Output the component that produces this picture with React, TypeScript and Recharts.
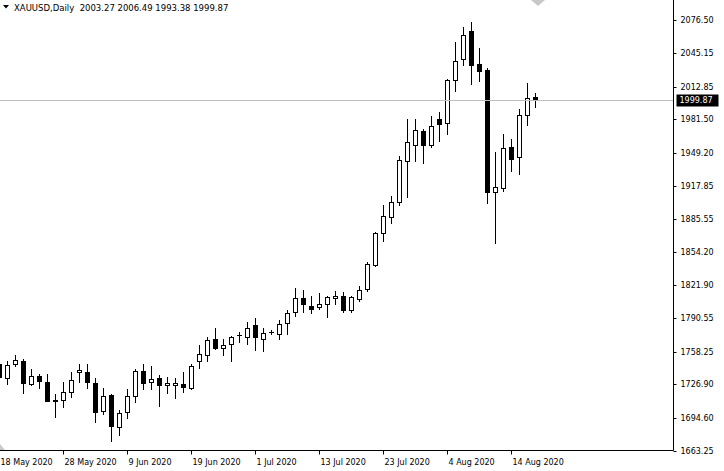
import { ComposedChart, Bar, XAxis, YAxis, ReferenceLine } from 'recharts';

// XAUUSD daily candles, 18 May 2020 .. 19 Aug 2020 (one entry per trading day)
const opens = [
  1746.7, 1733.0, 1746.5, 1748.9, 1727.3, 1735.2, 1729.5, 1711.9, 1711.9, 1719.6,
  1738.4, 1739.1, 1728.5, 1701.4, 1717.0, 1685.6, 1700.2, 1715.4, 1740.0, 1729.2,
  1733.1, 1726.1, 1726.1, 1727.3, 1723.7, 1749.3, 1755.1, 1770.5, 1761.8, 1765.3,
  1773.9, 1772.0, 1783.9, 1770.1, 1777.0, 1775.2, 1785.8, 1796.0, 1809.8, 1802.4,
  1801.1, 1804.0, 1809.8, 1811.7, 1797.9, 1808.8, 1818.0, 1841.4, 1872.7, 1887.5,
  1901.9, 1941.2, 1956.6, 1970.0, 1956.6, 1981.5, 1977.7, 2019.0, 2039.1, 2066.3,
  2034.6, 2028.8, 1911.5, 1915.9, 1954.7, 1945.6, 1985.4, 2003.27,
];
const highs = [
  1749.6, 1749.6, 1755.4, 1750.9, 1741.9, 1736.9, 1737.1, 1718.0, 1729.2, 1738.8,
  1746.7, 1746.7, 1733.3, 1723.7, 1717.7, 1702.6, 1722.8, 1741.9, 1746.7, 1744.8,
  1736.0, 1734.3, 1733.3, 1739.1, 1746.7, 1765.0, 1772.4, 1781.0, 1770.4, 1773.6,
  1777.4, 1787.0, 1790.6, 1781.0, 1779.4, 1789.0, 1797.9, 1819.7, 1817.7, 1812.0,
  1814.6, 1812.0, 1816.5, 1815.2, 1812.0, 1821.6, 1844.6, 1873.0, 1899.3, 1907.9,
  1946.3, 1981.8, 1981.8, 1972.2, 1984.7, 1988.5, 2020.2, 2055.7, 2069.8, 2074.9,
  2049.9, 2030.5, 1950.4, 1967.4, 1962.6, 1991.4, 2016.4, 2006.49,
];
const lows = [
  1731.4, 1726.9, 1744.2, 1718.2, 1725.9, 1723.4, 1710.6, 1695.2, 1704.8, 1714.8,
  1728.8, 1723.4, 1690.4, 1698.1, 1672.2, 1678.6, 1694.0, 1709.6, 1722.8, 1722.8,
  1705.8, 1718.2, 1714.1, 1719.2, 1722.8, 1742.2, 1748.9, 1760.5, 1754.7, 1749.3,
  1767.2, 1765.6, 1760.2, 1758.5, 1775.2, 1770.7, 1775.2, 1792.1, 1796.0, 1795.0,
  1798.8, 1791.5, 1804.0, 1796.0, 1796.6, 1806.5, 1816.8, 1841.0, 1864.1, 1882.3,
  1899.6, 1907.3, 1941.5, 1939.9, 1955.2, 1961.0, 1967.1, 2009.0, 2033.9, 2015.7,
  2018.6, 1901.5, 1863.1, 1912.7, 1932.2, 1929.3, 1976.4, 1993.38,
];
const closes = [
  1733.6, 1745.8, 1749.9, 1727.8, 1735.2, 1730.1, 1711.2, 1710.6, 1719.6, 1731.1,
  1741.0, 1728.8, 1700.0, 1715.7, 1686.6, 1699.4, 1716.0, 1740.0, 1728.0, 1732.1,
  1725.9, 1728.5, 1728.5, 1724.0, 1744.5, 1756.0, 1769.5, 1761.3, 1764.7, 1772.6,
  1774.3, 1781.0, 1772.0, 1776.5, 1777.3, 1785.1, 1795.4, 1809.8, 1803.6, 1798.8,
  1804.3, 1810.7, 1811.7, 1797.9, 1810.7, 1817.5, 1842.7, 1872.1, 1888.5, 1901.9,
  1942.2, 1959.5, 1971.0, 1956.6, 1974.8, 1976.7, 2019.0, 2037.2, 2062.1, 2033.9,
  2027.6, 1912.1, 1916.9, 1953.7, 1943.7, 1985.7, 2001.7, 1999.87,
];

const dateTicks = [0, 8, 16, 24, 32, 40, 48, 56, 64];
const dateLabels = [
  '18 May 2020', '28 May 2020', '9 Jun 2020', '19 Jun 2020', '1 Jul 2020',
  '13 Jul 2020', '23 Jul 2020', '4 Aug 2020', '14 Aug 2020',
];
const priceTicks = [
  2076.5, 2045.15, 2012.85, 1981.5, 1949.2, 1917.85, 1885.55,
  1854.2, 1821.9, 1790.55, 1758.25, 1726.9, 1694.6, 1663.25,
];
const lastPrice = 1999.87;
const title = 'XAUUSD,Daily  2003.27 2006.49 1993.38 1999.87';

const FONT = '"DejaVu Sans", Tahoma, sans-serif';

const data = opens.map((open, i) => ({
  i,
  open,
  high: highs[i],
  low: lows[i],
  close: closes[i],
  range: [lows[i], highs[i]],
}));

function Candle(props: any) {
  const { x, y, width, height, payload } = props;
  if (!payload || height == null) return null;
  const { open, close, high, low } = payload;
  const cx = Math.floor(x + width / 2) + 0.5;
  const k = height / (high - low);
  const py = (v: number) => Math.round(y + (high - v) * k);
  const hy = py(high);
  const ly = py(low);
  const top = py(Math.max(open, close));
  const bot = py(Math.min(open, close));
  let body;
  if (bot - top < 1) {
    body = <line x1={cx - 2.5} x2={cx + 2.5} y1={top + 0.5} y2={top + 0.5} stroke="#000" />;
  } else if (close >= open) {
    body = <rect x={cx - 2} y={top + 0.5} width={4} height={bot - top} fill="#fff" stroke="#000" />;
  } else {
    body = <rect x={cx - 2.5} y={top} width={5} height={bot - top + 1} fill="#000" />;
  }
  return (
    <g>
      <line x1={cx} x2={cx} y1={hy} y2={ly + 1} stroke="#000" />
      {body}
    </g>
  );
}

function DateTick({ x, y, payload }: any) {
  const idx = dateTicks.indexOf(payload.value);
  const tx = Math.floor(x) + 0.5;
  return (
    <g>
      <line x1={tx} x2={tx} y1={y} y2={y + 4} stroke="#000" />
      <text x={tx + 1} y={y + 14} fontSize={8} fontFamily={FONT} fill="#000">
        {dateLabels[idx]}
      </text>
    </g>
  );
}

function PriceTick({ x, y, payload }: any) {
  const v = payload.value;
  const ty = Math.round(y) + 0.5;
  if (v === lastPrice) {
    return (
      <g>
        <rect x={x + 3} y={ty - 6} width={42} height={12} fill="#000" />
        <text x={x + 6} y={ty} dy="0.36em" fontSize={8} fontFamily={FONT} fill="#fff">
          {v.toFixed(2)}
        </text>
      </g>
    );
  }
  return (
    <g>
      <line x1={x} x2={x + 3} y1={ty} y2={ty} stroke="#000" />
      <text x={x + 7} y={ty} dy="0.36em" fontSize={8} fontFamily={FONT} fill="#000">
        {v.toFixed(2)}
      </text>
    </g>
  );
}

export default function App() {
  return (
    <div style={{ position: 'relative', width: 724, height: 471, background: '#fff' }}>
      <style>{'body{margin:0;}'}</style>
      <ComposedChart width={724} height={471} data={data} margin={{ top: 0, right: 0, bottom: 0, left: 0 }}>
        <XAxis
          dataKey="i"
          type="number"
          domain={[0.0625, 84.25]}
          allowDataOverflow
          ticks={dateTicks}
          interval={0}
          height={20.5}
          tickSize={0}
          tickMargin={0}
          tick={<DateTick />}
          axisLine={{ stroke: '#000' }}
        />
        <YAxis
          orientation="right"
          type="number"
          domain={[1663.25, 2096.15]}
          allowDataOverflow
          ticks={[...priceTicks, lastPrice]}
          interval={0}
          width={50.5}
          tickSize={0}
          tickMargin={0}
          tick={<PriceTick />}
          axisLine={{ stroke: '#000' }}
        />
        <ReferenceLine
          y={lastPrice}
          stroke="#c0c0c0"
          shape={(p: any) => (
            <line x1={p.x1} x2={p.x2} y1={Math.floor(p.y1) + 0.5} y2={Math.floor(p.y2) + 0.5} stroke="#c0c0c0" />
          )}
        />
        <Bar dataKey="range" barSize={5} shape={<Candle />} isAnimationActive={false} />
      </ComposedChart>
      <svg width={724} height={471} style={{ position: 'absolute', left: 0, top: 0, pointerEvents: 'none' }}>
        <polygon points="3,5 9,5 6,8.5" fill="#000" />
        <text x={14} y={10.5} fontSize={8.5} fontFamily={FONT} fill="#000" style={{ whiteSpace: 'pre' }}>
          {title}
        </text>
        <polygon points="531,0 545,0 538,6" fill="#c8c8c8" />
        <polygon points="0,444 0,450 5,450" fill="#c8c8c8" />
      </svg>
    </div>
  );
}
